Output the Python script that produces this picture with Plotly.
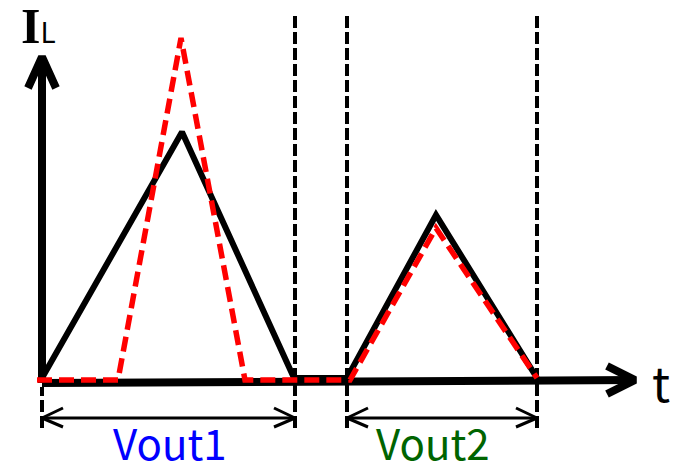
import plotly.graph_objects as go

# ---- data (t in arbitrary units, I in arbitrary units) ----
black_t = [0.0, 14.0, 25.2, 30.5, 39.4, 49.5]
black_i = [0.3, 24.9, 0.3, 0.3, 16.6, 0.3]

red_t = [-0.5, 7.6, 13.9, 20.3, 30.8, 39.4, 49.5]
red_i = [0.1, 0.1, 34.3, 0.1, 0.1, 15.3, 0.3]

boundaries_t = [25.3, 30.5, 49.5]   # dashed vertical boundaries
region1 = [0.0, 25.3]
region2 = [30.5, 49.5]
labels = ["Vout1", "Vout2"]
label_colors = ["#0000FF", "#006400"]
label_shift = [0.1, -0.9]

# axis geometry (data units)
AX_T_END = 59.3
AX_I_END = 32.4
DIM_I = -3.7
DASH_TOP = 36.8
DASH_BOT = -4.7

fig = go.Figure()

def line(x, y, color="black", width=3, dash=None):
    fig.add_trace(go.Scatter(x=x, y=y, mode="lines", hoverinfo="skip",
                             line=dict(color=color, width=width, dash=dash)))

# dashed boundaries
for tb in boundaries_t:
    line([tb, tb], [DASH_BOT, DASH_TOP], width=4, dash="12px,4px")
line([0, 0], [DASH_BOT, -0.6], width=4, dash="12px,4px")

# axes
line([0, 0], [-0.2, AX_I_END], width=8)
line([0, AX_T_END], [-0.2, 0.1], width=8)
# arrow heads
line([-1.4, 0, 1.4], [AX_I_END - 3.1, AX_I_END, AX_I_END - 3.1], width=8)
line([AX_T_END - 2.8, AX_T_END, AX_T_END - 2.8], [1.5, 0.1, -1.3], width=8)

# black waveform
line(black_t, black_i, width=6)
# red dashed waveform
line(red_t, red_i, color="#FF0000", width=5.5, dash="15px,7px")

# dimension arrows
for (a, b) in (region1, region2):
    line([a, b], [DIM_I, DIM_I], width=3)
    line([a + 2.1, a, a + 2.1], [DIM_I + 1.0, DIM_I, DIM_I - 0.9], width=3)
    line([b - 2.1, b, b - 2.1], [DIM_I + 1.0, DIM_I, DIM_I - 0.9], width=3)

font = "Noto Sans CJK JP"
for (a, b), txt, col, sh in zip((region1, region2), labels, label_colors, label_shift):
    fig.add_annotation(x=(a + b) / 2 + sh, y=DIM_I - 2.35, text=txt, showarrow=False,
                       font=dict(family=font, size=42, color=col))

fig.add_annotation(
    x=-0.35, y=35.5, showarrow=False,
    text="<span style='font-family:Liberation Serif;font-weight:bold;font-size:50px'>I</span>"
         "<span style='font-size:28px'>L</span>",
    font=dict(family=font, size=28, color="black"))
fig.add_annotation(x=61.9, y=0.0, text="t", showarrow=False,
                   font=dict(family=font, size=48, color="black"))

fig.update_layout(
    width=673, height=465, margin=dict(l=0, r=0, t=0, b=0),
    paper_bgcolor="white", plot_bgcolor="white", showlegend=False,
    xaxis=dict(range=[-4.2, 63.1], visible=False, fixedrange=True),
    yaxis=dict(range=[-8.4, 38.1], visible=False, fixedrange=True),
)
fig.write_html("out.html", post_script="document.body.style.margin='0px';",
               config={"displayModeBar": False})
